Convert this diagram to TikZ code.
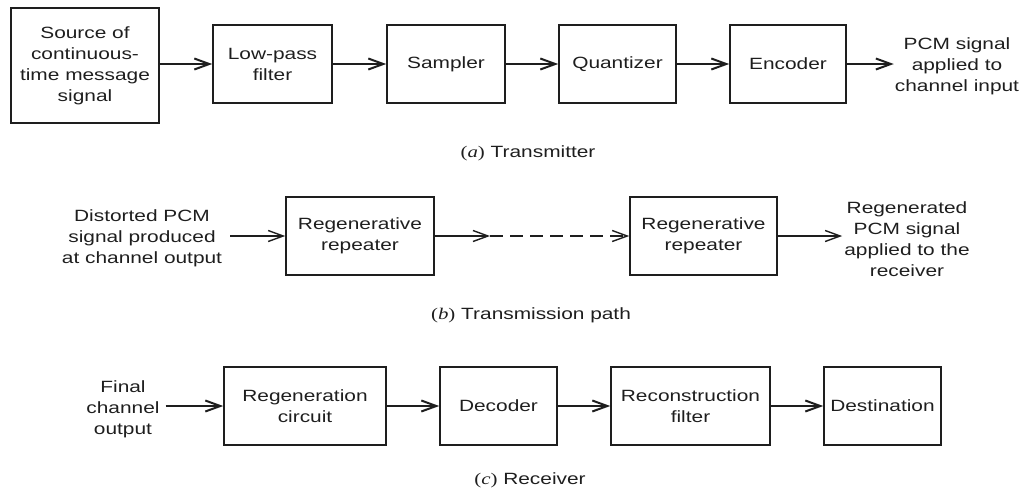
\documentclass[tikz,border=0pt]{standalone}
\usepackage{fontspec}
\setmainfont{Liberation Sans}[FakeStretch=1.28]
\newfontfamily\capserif{Liberation Serif}[FakeStretch=1.28]
\usetikzlibrary{arrows.meta}
\definecolor{ink}{HTML}{1E1E1E}
\newcommand{\lbl}[1]{{\capserif(\textit{#1})}}
\begin{document}
\begin{tikzpicture}[x=1pt,y=1pt,
  every node/.style={text=ink, font=\fontsize{16.3}{21}\selectfont, align=center},
  blk/.style={draw=ink, line width=1.6pt, minimum height=78pt, inner sep=0pt},
  flow/.style={draw=ink, line width=2pt, -{Straight Barb[length=15pt,width=11pt]}},
  thinflow/.style={draw=ink, line width=1.4pt, -{Straight Barb[length=15pt,width=11pt]}},
  caption/.style={font=\fontsize{16.3}{21}\selectfont}]
\useasboundingbox (0,0) rectangle (1032,-493);

% (a) transmitter chain
\node[blk, minimum width=148pt, minimum height=115pt] (src) at (85,-65.5)
  {Source of\\continuous-\\time message\\signal};
\node[blk, minimum width=119pt] (lpf) at (272.5,-64) {Low-pass\\filter};
\node[blk, minimum width=118pt] (smp) at (446,-64) {Sampler};
\node[blk, minimum width=117pt] (qnt) at (617.5,-64) {Quantizer};
\node[blk, minimum width=116pt] (enc) at (788,-64) {Encoder};
\node[inner sep=1pt] (pcm) at (957,-66) {PCM signal\\applied to\\channel input};
\draw[flow] (src.east |- lpf.west) -- (lpf.west);
\draw[flow] (lpf) -- (smp);
\draw[flow] (smp) -- (qnt);
\draw[flow] (qnt) -- (enc);
\draw[flow] (enc.east) -- (pcm.west |- enc.east);
\node[caption] (capa) at (528,-153) {\lbl{a} Transmitter};

% (b) transmission path
\node[inner sep=2pt] (dist) at (142,-238) {Distorted PCM\\signal produced\\at channel output};
\node[blk, minimum width=148pt] (rr1) at (360,-236) {Regenerative\\repeater};
\node[blk, minimum width=147pt] (rr2) at (703.5,-236) {Regenerative\\repeater};
\node[inner sep=2pt] (regen) at (907,-239) {Regenerated\\PCM signal\\applied to the\\receiver};
\coordinate (mid) at (490,-236);
\draw[thinflow] (dist.east |- rr1.west) ++(6,0) -- (rr1.west);
\draw[thinflow] (rr1.east) -- (mid);
\draw[thinflow, dash pattern=on 13pt off 7pt] (mid) -- (rr2.west);
\draw[thinflow] (rr2.east) -- (regen.west |- rr2.east);
\node[caption] (capb) at (531,-315) {\lbl{b} Transmission path};

% (c) receiver chain
\node[inner sep=2pt] (fin) at (123,-409) {Final\\channel\\output};
\node[blk, minimum width=162pt] (rc) at (305,-406) {Regeneration\\circuit};
\node[blk, minimum width=117pt] (dec) at (498.5,-406) {Decoder};
\node[blk, minimum width=159pt] (rf) at (690.5,-406) {Reconstruction\\filter};
\node[blk, minimum width=117pt] (dst) at (882.5,-406) {Destination};
\draw[flow] (fin.east |- rc.west) ++(4,0) -- (rc.west);
\draw[flow] (rc) -- (dec);
\draw[flow] (dec) -- (rf);
\draw[flow] (rf) -- (dst);
\node[caption] (capc) at (530,-480) {\lbl{c} Receiver};
\end{tikzpicture}
\end{document}
